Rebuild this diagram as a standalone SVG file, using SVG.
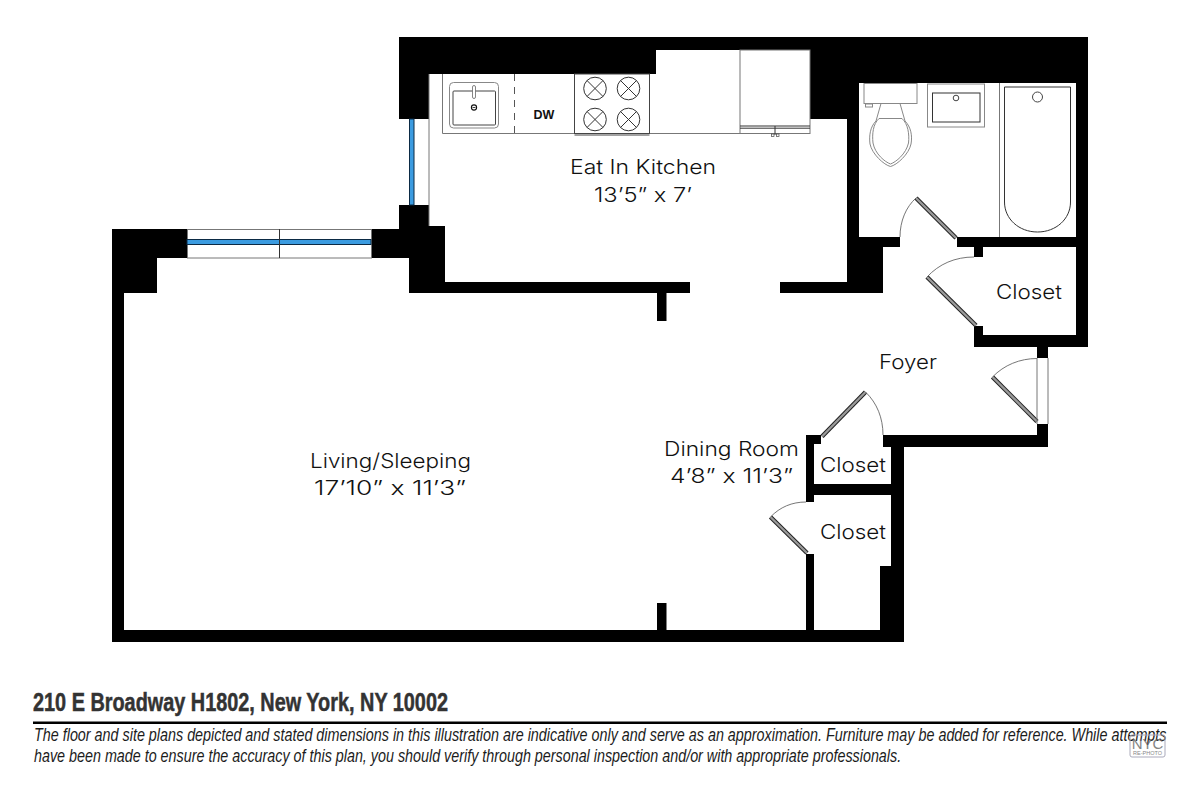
<svg xmlns="http://www.w3.org/2000/svg" width="1200" height="800" viewBox="0 0 1200 800">
<style>
.w{fill:#000}
.f{fill:none;stroke:#777;stroke-width:1}
.d{fill:none;stroke:#333;stroke-width:1}
.g{fill:none;stroke:#888;stroke-width:1}
.a{fill:none;stroke:#666;stroke-width:.9}
.leaf{stroke:#222;stroke-width:4.4;stroke-linecap:butt}
.leafc{stroke:#9a9a9a;stroke-width:2.4}
.l{font-family:"Inter","Lato",sans-serif;font-weight:300;font-size:20px;fill:#111}
.n{font-family:"Liberation Sans Narrow","Liberation Sans",sans-serif;font-style:italic;font-size:19px;fill:#1c1c1c}
</style>
<defs>
<g id="burner"><circle r="11.3" fill="#fff" stroke="#333" stroke-width="1"/><path d="M-8-8L8 8M8-8L-8 8" stroke="#333" stroke-width="1"/></g>
</defs>
<rect width="1200" height="800" fill="#fff"/>
<g id="walls">
<rect class="w" x="399" y="37" width="689" height="13"/>
<rect class="w" x="399" y="50" width="257" height="24"/>
<rect class="w" x="399" y="74" width="30" height="45"/>
<rect class="w" x="810" y="50" width="278" height="33"/>
<rect class="w" x="810" y="83" width="49" height="36"/>
<rect class="w" x="847" y="119" width="12" height="174"/>
<rect class="w" x="1076" y="83" width="12" height="264"/>
<rect class="w" x="859" y="237" width="41" height="10"/>
<rect class="w" x="957" y="237" width="119" height="10"/>
<rect class="w" x="859" y="247" width="24" height="46"/>
<rect class="w" x="780" y="282" width="79" height="11"/>
<rect class="w" x="974" y="247" width="9" height="10"/>
<rect class="w" x="974" y="326" width="9" height="21"/>
<rect class="w" x="974" y="335" width="114" height="12"/>
<rect class="w" x="1037" y="347" width="11" height="11"/>
<rect class="w" x="1037" y="424" width="11" height="23"/>
<rect class="w" x="883" y="435" width="165" height="12"/>
<rect class="w" x="883" y="435" width="8" height="10"/>
<rect class="w" x="891" y="435" width="13" height="207"/>
<rect class="w" x="880" y="566" width="24" height="76"/>
<rect class="w" x="806" y="435" width="15" height="9"/>
<rect class="w" x="806" y="435" width="8" height="67"/>
<rect class="w" x="806" y="484" width="85" height="11"/>
<rect class="w" x="806" y="554" width="8" height="80"/>
<rect class="w" x="112" y="630" width="792" height="12"/>
<rect class="w" x="112" y="229" width="75" height="29"/>
<rect class="w" x="112" y="258" width="45" height="35"/>
<rect class="w" x="112" y="258" width="12" height="384"/>
<rect class="w" x="371" y="229" width="74" height="29"/>
<rect class="w" x="399" y="205" width="30" height="30"/>
<rect class="w" x="409" y="226" width="36" height="67"/>
<rect class="w" x="409" y="282" width="281" height="11"/>
<rect class="w" x="657" y="293" width="9.500" height="28"/>
<rect class="w" x="657" y="603" width="9.500" height="27"/>
</g>
<g id="windows">
<rect class="f" x="187.500" y="229.500" width="184" height="28.500"/>
<rect x="187" y="239.500" width="184" height="5" fill="#3b9be0" stroke="#0b2a44" stroke-width="1"/>
<line x1="279.500" y1="229" x2="279.500" y2="258" stroke="#333" stroke-width="1"/>
<line class="f" x1="409.500" y1="119" x2="409.500" y2="205"/>
<line class="f" x1="429" y1="74" x2="429" y2="226"/>
<rect x="409.500" y="119" width="4.500" height="86" fill="#3b9be0" stroke="#0b2a44" stroke-width="1"/>
</g>
<g id="kitchen-fixtures">
<path class="f" d="M442.500 74V133.500H810"/>
<line x1="514.500" y1="74" x2="514.500" y2="133.500" stroke="#555" stroke-width="1" stroke-dasharray="7 6"/>
<rect class="g" x="449.500" y="82.500" width="49" height="45.500" rx="4"/>
<rect x="453" y="91" width="42.500" height="34" fill="none" stroke="#444" stroke-width="1" rx="1"/>
<rect x="472.500" y="85.500" width="3" height="13" rx="1.500" fill="#fff" stroke="#666" stroke-width=".8"/>
<circle cx="474" cy="107.500" r="2.600" fill="#fff" stroke="#111" stroke-width="1.100"/>
<line x1="472.500" y1="107.500" x2="475.500" y2="107.500" stroke="#111" stroke-width=".8"/>
<text x="544" y="118.500" font-family="Liberation Sans, sans-serif" font-weight="700" font-size="12.500" text-anchor="middle" fill="#111">DW</text>
<rect x="574.500" y="74" width="75" height="59.500" fill="#fff" stroke="#444" stroke-width="1"/>
<line x1="574.500" y1="135" x2="649.500" y2="135" stroke="#444" stroke-width="1"/>
<use href="#burner" x="595" y="88.500"/>
<use href="#burner" x="628.500" y="88.500"/>
<use href="#burner" x="595" y="119.500"/>
<use href="#burner" x="628.500" y="119.500"/>
<rect class="f" x="740" y="50" width="70" height="83.500"/>
<path class="d" d="M740 126H810M740 128.200H810M775 126V135"/>
<rect x="771.500" y="134" width="2.500" height="2.500" fill="#fff" stroke="#444" stroke-width=".7"/>
<rect x="776.500" y="134" width="2.500" height="2.500" fill="#fff" stroke="#444" stroke-width=".7"/>
</g>
<g id="bath-fixtures">
<rect class="g" x="864" y="83.500" width="53" height="20"/>
<rect class="g" x="865.500" y="104" width="7" height="3"/>
<path class="g" d="M881 103.500L876 121C870 127 869 136 870 144C872 154 884 165 890.500 166.500C897 165 909 154 911 144C912.500 136 911 127 905 121L900 103.500"/>
<path class="g" d="M879 118.500H902C908 124 909.500 134 908.500 143C906 154 896 162 890.500 164C885 162 875 154 873 143C872 134 873 124 879 118.500Z"/>
<rect class="g" x="927.500" y="84" width="57" height="43"/>
<rect x="932.500" y="93" width="47.500" height="29" fill="none" stroke="#333" stroke-width="1"/>
<circle cx="956" cy="98" r="2.800" fill="#fff" stroke="#444"/>
<line class="f" x1="999.500" y1="83" x2="999.500" y2="237"/>
<path fill="none" stroke="#333" stroke-width="1" d="M1004.500 87H1070.500V202C1070.500 219 1056 232 1037.500 232C1019 232 1004.500 219 1004.500 202Z"/>
<circle cx="1037.500" cy="97" r="5" fill="#fff" stroke="#444"/>
</g>
<g id="doors">
<line class="leaf" x1="916" y1="198" x2="956" y2="238"/><line class="leafc" x1="916" y1="198" x2="956" y2="238"/>
<path class="a" d="M900 237C900 221 906 207 916 198"/>
<line class="leaf" x1="927" y1="277" x2="976" y2="325.500"/><line class="leafc" x1="927" y1="277" x2="976" y2="325.500"/>
<path class="a" d="M974 257C955 257 939 264 927 277"/>
<line class="leaf" x1="992.500" y1="377" x2="1037" y2="421.500"/><line class="leafc" x1="992.500" y1="377" x2="1037" y2="421.500"/>
<path class="a" d="M1037 358.500C1020 358.500 1004 365 992.500 377"/>
<path class="f" d="M1037 358V424M1048 358V424"/>
<line class="leaf" x1="822" y1="436.500" x2="865.500" y2="392"/><line class="leafc" x1="822" y1="436.500" x2="865.500" y2="392"/>
<path class="a" d="M865.500 392C877 403 883 418 883 435"/>
<line class="leaf" x1="770.500" y1="517" x2="807" y2="553"/><line class="leafc" x1="770.500" y1="517" x2="807" y2="553"/>
<path class="a" d="M806 502C792 502 780 507 770.500 517"/>
</g>
<g id="labels">
<text class="l" x="570" y="174" textLength="146" lengthAdjust="spacingAndGlyphs">Eat In Kitchen</text>
<text class="l" x="594" y="202" textLength="98" lengthAdjust="spacingAndGlyphs">13’5” x 7’</text>
<text class="l" x="996" y="299" textLength="66" lengthAdjust="spacingAndGlyphs">Closet</text>
<text class="l" x="879" y="369" textLength="58" lengthAdjust="spacingAndGlyphs">Foyer</text>
<text class="l" x="664" y="456" textLength="135" lengthAdjust="spacingAndGlyphs">Dining Room</text>
<text class="l" x="670" y="483" textLength="123" lengthAdjust="spacingAndGlyphs">4’8” x 11’3”</text>
<text class="l" x="820" y="472" textLength="66" lengthAdjust="spacingAndGlyphs">Closet</text>
<text class="l" x="820" y="539" textLength="66" lengthAdjust="spacingAndGlyphs">Closet</text>
<text class="l" x="310" y="468" textLength="161" lengthAdjust="spacingAndGlyphs">Living/Sleeping</text>
<text class="l" x="314" y="494.500" textLength="152" lengthAdjust="spacingAndGlyphs">17’10” x 11’3”</text>
</g>
<g id="footer">
<text x="33" y="711" font-family="Liberation Sans Narrow, Liberation Sans, sans-serif" font-weight="700" font-size="25px" fill="#333" stroke="#333" stroke-width=".5" textLength="415" lengthAdjust="spacingAndGlyphs">210 E Broadway H1802, New York, NY 10002</text>
<rect x="33" y="721.500" width="1134" height="2.500" fill="#000"/>
<text class="n" transform="matrix(.756 0 0 1 34 741)" textLength="1498" lengthAdjust="spacingAndGlyphs">The floor and site plans depicted and stated dimensions in this illustration are indicative only and serve as an approximation. Furniture may be added for reference. While attempts</text>
<text class="n" transform="matrix(.756 0 0 1 34 762)" textLength="1147" lengthAdjust="spacingAndGlyphs">have been made to ensure the accuracy of this plan, you should verify through personal inspection and/or with appropriate professionals.</text>
</g>
<g id="watermark">
<rect x="1130" y="735" width="35" height="22" rx="2" fill="none" stroke="#aab" stroke-width="1"/>
<text x="1147.500" y="749" font-family="Liberation Sans, sans-serif" font-size="15px" fill="#666" text-anchor="middle" opacity=".8">NYC</text>
<text x="1147.500" y="754.500" font-family="Liberation Sans, sans-serif" font-size="5.500px" fill="#888" text-anchor="middle">RE-PHOTO</text>
</g>
</svg>
